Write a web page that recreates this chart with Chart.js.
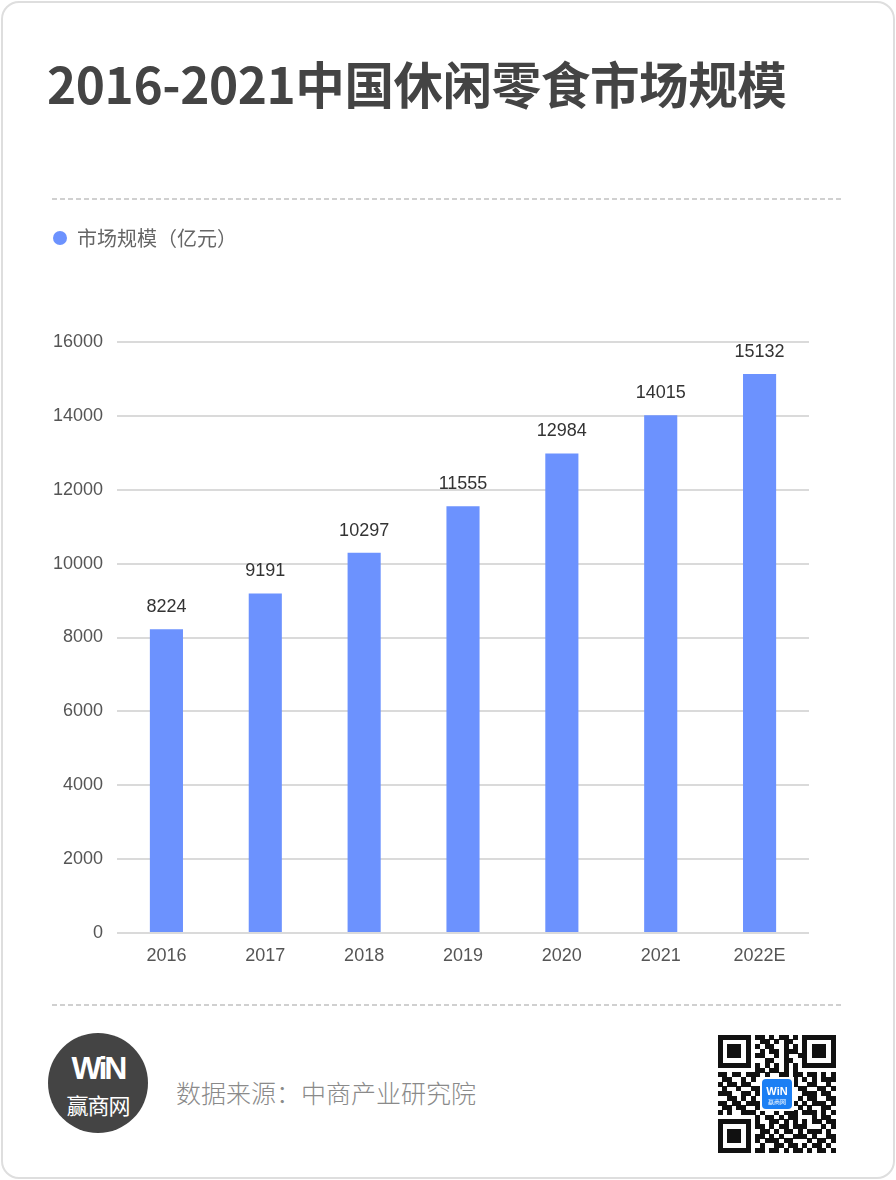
<!DOCTYPE html>
<html>
<head>
<meta charset="utf-8">
<script src="https://cdn.jsdelivr.net/npm/chart.js@4.4.1/dist/chart.umd.min.js"></script>
<style>
  html, body { margin:0; padding:0; background:#fff; }
  body { width:896px; height:1180px; position:relative; overflow:hidden; font-family:"Noto Sans CJK SC", "Noto Sans", sans-serif; }
  .card { position:absolute; left:1px; top:1px; width:890px; height:1174px; border:2px solid #dedede; border-radius:18px; box-sizing:content-box; }
  .title { position:absolute; left:47px; top:54px; font-size:49.5px; line-height:58px; font-weight:700; color:#444; white-space:nowrap; letter-spacing:-0.4px; }
  .dash { position:absolute; left:52px; width:790px; height:2px; background:repeating-linear-gradient(to right, #d0d0d0 0 5px, transparent 5px 8px); }
  #chartWrap { position:absolute; left:0; top:215px; width:896px; height:760px; }
  .logo { position:absolute; left:48px; top:1033px; width:100px; height:100px; border-radius:50%; background:#444; color:#fff; text-align:center; }
  .logo .win { position:absolute; left:0; right:0; top:16px; font-family:"Liberation Sans", Arial, sans-serif; font-weight:700; font-size:32px; line-height:38px; letter-spacing:-3px; }
  .logo .cn { position:absolute; left:0; right:0; top:58px; font-size:22px; line-height:26px; letter-spacing:-1px; }
  .source { position:absolute; left:176px; top:1075px; font-size:25px; line-height:34px; color:#8a8a8a; white-space:nowrap; font-weight:300; }
  #qr { position:absolute; left:718px; top:1035px; width:118px; height:118px; }
</style>
</head>
<body>
<div class="card"></div>
<div class="title">2016-2021中国休闲零食市场规模</div>
<div class="dash" style="top:198px"></div>
<div id="chartWrap"><canvas id="chart"></canvas></div>
<div class="dash" style="top:1004px"></div>
<div class="logo"><div class="win">WiN</div><div class="cn">赢商网</div></div>
<div class="source">数据来源：中商产业研究院</div>
<canvas id="qr" width="118" height="118"></canvas>
<script>
// ---- data ----
const categories = ['2016', '2017', '2018', '2019', '2020', '2021', '2022E'];
const marketSize = [8224, 9191, 10297, 11555, 12984, 14015, 15132];
const seriesLabel = '市场规模（亿元）';
const yMin = 0;
const yMax = 16000;
const yStep = 2000;

const barColor = 'rgb(108,146,254)';
const numFont = '"Liberation Sans", Arial, sans-serif';

const valueLabels = {
  id: 'valueLabels',
  afterDatasetsDraw(chart) {
    const ctx = chart.ctx;
    const ds = chart.data.datasets[0];
    const meta = chart.getDatasetMeta(0);
    ctx.save();
    ctx.font = '18px ' + numFont;
    ctx.fillStyle = '#333';
    ctx.textAlign = 'center';
    ctx.textBaseline = 'middle';
    meta.data.forEach((bar, i) => {
      ctx.fillText(String(ds.data[i]), bar.x, bar.y - 22);
    });
    ctx.restore();
  }
};

const legendSpace = {
  id: 'legendSpace',
  beforeInit(chart) {
    const orig = chart.legend.fit;
    chart.legend.fit = function () {
      orig.call(this);
      this.height = 127;
    };
  }
};

new Chart(document.getElementById('chart'), {
  type: 'bar',
  data: {
    labels: categories,
    datasets: [{
      label: seriesLabel,
      data: marketSize,
      backgroundColor: barColor,
      borderWidth: 0,
      categoryPercentage: 1,
      barPercentage: 0.335
    }]
  },
  options: {
    responsive: true,
    maintainAspectRatio: false,
    animation: false,
    devicePixelRatio: 1,
    layout: { padding: { left: 40, right: 87, top: 0, bottom: 0 } },
    plugins: {
      legend: {
        position: 'top',
        align: 'start',
        labels: {
          usePointStyle: true,
          pointStyle: 'circle',
          pointStyleWidth: 14,
          boxHeight: 10,
          padding: 13,
          color: '#666',
          font: { family: '"Noto Sans CJK SC", sans-serif', size: 20 }
        }
      },
      tooltip: { enabled: false }
    },
    scales: {
      x: {
        grid: { display: false, drawTicks: false },
        border: { display: false },
        ticks: {
          color: '#555',
          padding: 12,
          font: { family: numFont, size: 18 }
        },
        afterFit(scale) { scale.height = 42; }
      },
      y: {
        min: yMin,
        max: yMax,
        grid: { color: '#dadada', lineWidth: 2, drawTicks: false },
        border: { display: false },
        ticks: {
          stepSize: yStep,
          color: '#555',
          padding: 14,
          font: { family: numFont, size: 18 },
          callback: (v) => String(v)
        },
        afterFit(scale) { scale.width = 77; }
      }
    }
  },
  plugins: [valueLabels, legendSpace]
});

// ---- decorative QR code ----
const qrRows = [
  '1111111011010110101111111',
  '1000001001101011001000001',
  '1011101010110010101011101',
  '1011101001011011101011101',
  '1011101011001010011011101',
  '1000001000110011001000001',
  '1111111010101010101111111',
  '0000000011011010100000000',
  '1101101110100110110110101',
  '0110010101110001101010111',
  '1011011001001110100110010',
  '0100100110110101011001101',
  '1110011011010011001110110',
  '0011010101101101010110011',
  '1101101110010110101011101',
  '0110110010111001010100110',
  '1010011101001011101110101',
  '0000000010110101100010110',
  '1111111010011010101011011',
  '1000001011010110111000101',
  '1011101001101011010111010',
  '1011101011010100111010011',
  '1011101010111011000101101',
  '1000001001001101101011010',
  '1111111011011010110101101'
];
(function drawQR() {
  const c = document.getElementById('qr');
  const g = c.getContext('2d');
  const n = qrRows.length;
  const m = 118 / n;
  g.fillStyle = '#fff';
  g.fillRect(0, 0, 118, 118);
  g.fillStyle = '#111';
  for (let r = 0; r < n; r++) {
    for (let k = 0; k < qrRows[r].length; k++) {
      if (qrRows[r][k] === '1') {
        g.fillRect(Math.floor(k * m), Math.floor(r * m), Math.ceil(m), Math.ceil(m));
      }
    }
  }
  // centre logo
  g.fillStyle = '#fff';
  g.fillRect(42, 42, 34, 34);
  g.fillStyle = '#1b7ff4';
  const x = 44, y = 44, w = 30, h = 30, rr = 4;
  g.beginPath();
  g.moveTo(x + rr, y);
  g.arcTo(x + w, y, x + w, y + h, rr);
  g.arcTo(x + w, y + h, x, y + h, rr);
  g.arcTo(x, y + h, x, y, rr);
  g.arcTo(x, y, x + w, y, rr);
  g.closePath();
  g.fill();
  g.fillStyle = '#fff';
  g.textAlign = 'center';
  g.font = 'bold 11px "Liberation Sans", Arial, sans-serif';
  g.fillText('WiN', 59, 60);
  g.font = '6px "Noto Sans CJK SC", sans-serif';
  g.fillText('赢商网', 59, 69);
})();
</script>
</body>
</html>
